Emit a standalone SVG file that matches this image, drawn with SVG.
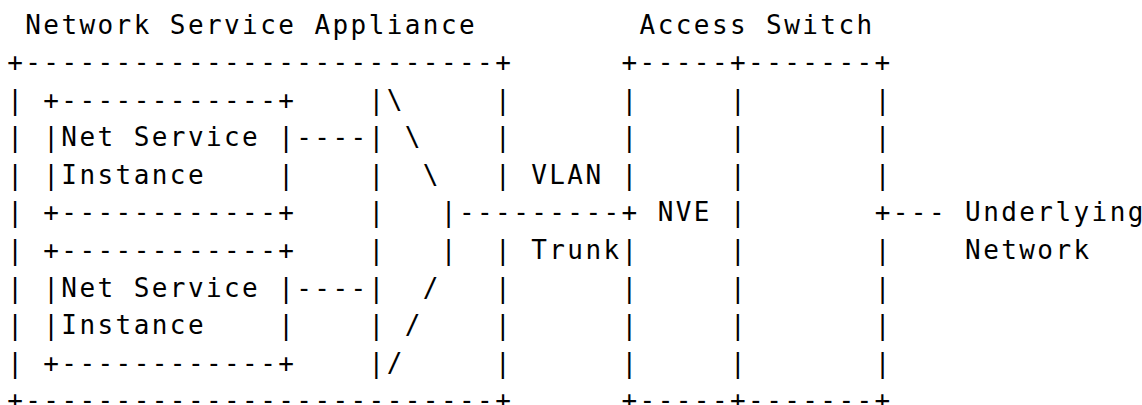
<svg xmlns="http://www.w3.org/2000/svg" width="1142" height="405" viewBox="0 0 1142 405" xml:space="preserve">
<style>
.t { font-family: "DejaVu Sans Mono", "Liberation Mono", monospace; font-size: 26px; letter-spacing: 2.42px; fill: #000; white-space: pre; }
</style>
<rect width="1142" height="405" fill="#fff"/>
<g id="label-appliance"><text class="t" x="25.24" y="34">Network Service Appliance</text></g>
<g id="label-switch"><text class="t" x="639.62" y="34">Access Switch</text></g>
<g id="appliance">
<text class="t" x="7.17" y="71">+--------------------------+</text>
<text class="t" x="7.17" y="409">+--------------------------+</text>
<text class="t"><tspan x="7.17" y="108.6">|</tspan><tspan x="7.17" y="146.2">|</tspan><tspan x="7.17" y="183.8">|</tspan><tspan x="7.17" y="221.4">|</tspan><tspan x="7.17" y="259">|</tspan><tspan x="7.17" y="296.6">|</tspan><tspan x="7.17" y="334.2">|</tspan><tspan x="7.17" y="371.8">|</tspan></text>
<text class="t"><tspan x="495.06" y="108.6">|</tspan><tspan x="495.06" y="146.2">|</tspan><tspan x="495.06" y="183.8">|</tspan><tspan x="495.06" y="259">|</tspan><tspan x="495.06" y="296.6">|</tspan><tspan x="495.06" y="334.2">|</tspan><tspan x="495.06" y="371.8">|</tspan></text>
</g>
<g id="instance-1">
<text class="t" x="43.31" y="108.6">+------------+</text>
<text class="t" x="43.31" y="146.2">|Net Service |</text>
<text class="t" x="43.31" y="183.8">|Instance    |</text>
<text class="t" x="43.31" y="221.4">+------------+</text>
</g>
<g id="instance-2">
<text class="t" x="43.31" y="259">+------------+</text>
<text class="t" x="43.31" y="296.6">|Net Service |</text>
<text class="t" x="43.31" y="334.2">|Instance    |</text>
<text class="t" x="43.31" y="371.8">+------------+</text>
</g>
<g id="mux">
<text class="t"><tspan x="368.57" y="108.6">|</tspan><tspan x="368.57" y="146.2">|</tspan><tspan x="368.57" y="183.8">|</tspan><tspan x="368.57" y="221.4">|</tspan><tspan x="368.57" y="259">|</tspan><tspan x="368.57" y="296.6">|</tspan><tspan x="368.57" y="334.2">|</tspan><tspan x="368.57" y="371.8">|</tspan></text>
<text class="t"><tspan x="386.64" y="108.6">\</tspan><tspan x="404.71" y="146.2">\</tspan><tspan x="422.78" y="183.8">\</tspan><tspan x="440.85" y="221.4">|</tspan><tspan x="440.85" y="259">|</tspan><tspan x="422.78" y="296.6">/</tspan><tspan x="404.71" y="334.2">/</tspan><tspan x="386.64" y="371.8">/</tspan></text>
</g>
<g id="access-switch">
<text class="t" x="621.55" y="71">+-----+-------+</text>
<text class="t" x="621.55" y="409">+-----+-------+</text>
<text class="t"><tspan x="621.55" y="108.6">|</tspan><tspan x="621.55" y="146.2">|</tspan><tspan x="621.55" y="183.8">|</tspan><tspan x="621.55" y="259">|</tspan><tspan x="621.55" y="296.6">|</tspan><tspan x="621.55" y="334.2">|</tspan><tspan x="621.55" y="371.8">|</tspan></text>
<text class="t"><tspan x="729.97" y="108.6">|</tspan><tspan x="729.97" y="146.2">|</tspan><tspan x="729.97" y="183.8">|</tspan><tspan x="729.97" y="221.4">|</tspan><tspan x="729.97" y="259">|</tspan><tspan x="729.97" y="296.6">|</tspan><tspan x="729.97" y="334.2">|</tspan><tspan x="729.97" y="371.8">|</tspan></text>
<text class="t"><tspan x="874.73" y="108.6">|</tspan><tspan x="874.73" y="146.2">|</tspan><tspan x="874.73" y="183.8">|</tspan><tspan x="874.73" y="259">|</tspan><tspan x="874.73" y="296.6">|</tspan><tspan x="874.73" y="334.2">|</tspan><tspan x="874.73" y="371.8">|</tspan></text>
<text class="t" x="657.69" y="221.4">NVE</text>
</g>
<g id="connectors">
<text class="t" x="296.29" y="146.2">----</text>
<text class="t" x="296.29" y="296.6">----</text>
<text class="t" x="458.92" y="221.4">---------+</text>
<text class="t" x="874.73" y="221.4">+---</text>
<text class="t" x="531.2" y="183.8">VLAN</text>
<text class="t" x="531.2" y="259">Trunk</text>
<text class="t" x="965.08" y="221.4">Underlying</text>
<text class="t" x="965.08" y="259">Network</text>
</g>
</svg>
